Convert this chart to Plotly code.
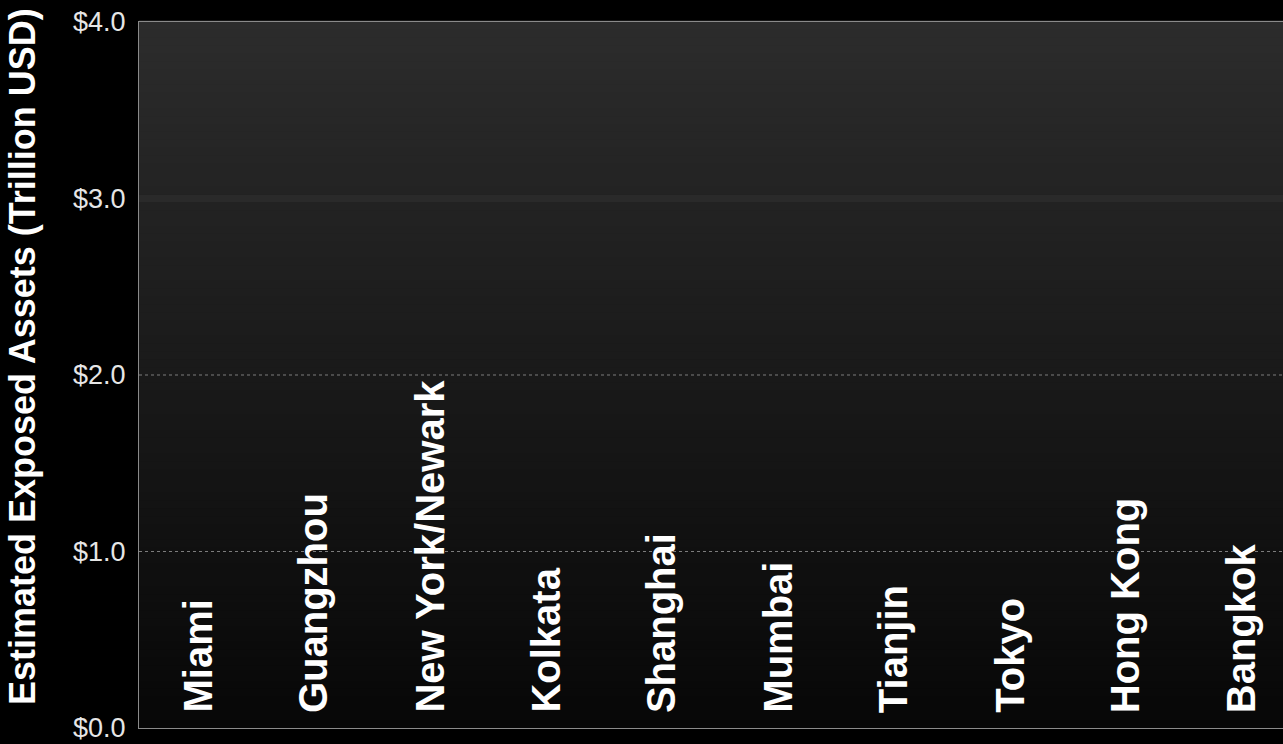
import plotly.graph_objects as go

# Top port cities by exposed assets (trillion USD)
cities = ["Miami", "Guangzhou", "New York/Newark", "Kolkata", "Shanghai",
          "Mumbai", "Tianjin", "Tokyo", "Hong Kong", "Bangkok"]
exposed_assets = [3.51, 3.36, 2.15, 1.96, 1.77, 1.60, 1.23, 1.21, 1.16, 1.12]
y_ticks = [0, 1, 2, 3, 4]
y_tick_labels = ["$0.0", "$1.0", "$2.0", "$3.0", "$4.0"]
grid_levels = [1, 2]
soft_grid_levels = [3]

fig = go.Figure()

# Bars are kept almost fully transparent against the dark backdrop
fig.add_trace(go.Bar(
    x=cities,
    y=exposed_assets,
    width=0.7,
    marker=dict(color="rgba(255,255,255,0.003)", line=dict(width=0)),
    hovertemplate="%{x}: $%{y:.2f}T<extra></extra>",
))

# Vertical gradient behind the plot area, light charcoal at the top to near black
shapes = []
n_bands = 90
top_val, bottom_val = 44, 7
for k in range(n_bands):
    frac = (k + 0.5) / n_bands          # 0 at bottom, 1 at top
    v = round(bottom_val + (top_val - bottom_val) * frac)
    shapes.append(dict(
        type="rect", xref="paper", yref="paper",
        x0=0, x1=1, y0=k / n_bands, y1=(k + 1) / n_bands + 0.002,
        fillcolor=f"rgb({v},{v},{v})", line=dict(width=0), layer="below",
    ))

for lvl in soft_grid_levels:
    shapes.append(dict(
        type="line", xref="paper", yref="y", x0=0, x1=1, y0=lvl, y1=lvl,
        line=dict(color="rgba(255,255,255,0.035)", width=7), layer="below",
    ))
for lvl in grid_levels:
    shapes.append(dict(
        type="line", xref="paper", yref="y", x0=0, x1=1, y0=lvl, y1=lvl,
        line=dict(color="#7c7c7c", width=1, dash="dot"), layer="below",
    ))

annotations = []
for c in cities:
    annotations.append(dict(
        x=c, y=0, xref="x", yref="y", text=c, showarrow=False,
        textangle=-90, xanchor="center", yanchor="bottom", yshift=13,
        font=dict(family="Liberation Sans", size=40, color="#ffffff",
                  weight="bold"),
    ))

annotations.append(dict(
    x=0, y=0.5, xref="paper", yref="paper", xshift=-117, yshift=18,
    text="Estimated Exposed Assets (Trillion USD)", showarrow=False,
    textangle=-90, xanchor="center", yanchor="middle",
    font=dict(family="Liberation Sans", size=36, color="#ffffff",
              weight="bold"),
))

fig.update_layout(
    width=1283, height=744,
    margin=dict(l=139, r=0, t=22, b=16),
    paper_bgcolor="#000000", plot_bgcolor="#000000",
    showlegend=False,
    shapes=shapes,
    annotations=annotations,
    bargap=0.3,
)

fig.update_xaxes(
    categoryorder="array", categoryarray=cities,
    range=[-0.5, 9.36],
    showticklabels=False, ticks="", showgrid=False, zeroline=False,
    showline=True, mirror=True, linecolor="#8a8a8a", linewidth=1,
)
fig.update_yaxes(
    range=[0, 4], tickmode="array", tickvals=y_ticks, ticktext=y_tick_labels,
    ticks="", showgrid=False, zeroline=False,
    showline=True, mirror=True, linecolor="#8a8a8a", linewidth=1,
    tickfont=dict(family="Liberation Sans", size=27, color="#e6e6e6"),
    ticklabelstandoff=7,
)

fig.write_html("out.html")
